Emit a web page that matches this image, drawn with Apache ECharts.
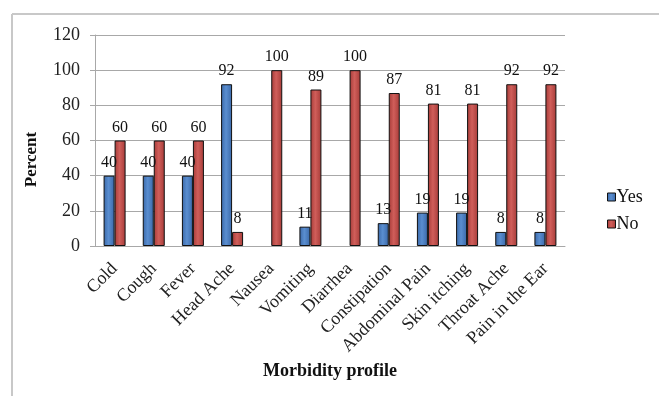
<!DOCTYPE html>
<html>
<head>
<meta charset="utf-8">
<script src="https://cdn.jsdelivr.net/npm/echarts@6/dist/echarts.min.js"></script>
<style>
  html, body { margin: 0; padding: 0; background: #fff; }
  #chart { width: 659px; height: 396px; }
</style>
</head>
<body>
<div id="chart"></div>
<script>
// Morbidity profile: share of respondents answering Yes / No per symptom
const categories = ['Cold', 'Cough', 'Fever', 'Head Ache', 'Nausea', 'Vomiting', 'Diarrhea',
  'Constipation', 'Abdominal Pain', 'Skin itching', 'Throat Ache', 'Pain in the Ear'];
const yesValues = [40, 40, 40, 92, 0, 11, 0, 13, 19, 19, 8, 8];
const noValues = [60, 60, 60, 8, 100, 89, 100, 87, 81, 81, 92, 92];
const yTicks = { min: 0, max: 120, interval: 20 };

const serif = '"Liberation Serif", "DejaVu Serif", serif';

function barFill(dark, light) {
  return new echarts.graphic.LinearGradient(0, 0, 1, 0, [
    { offset: 0, color: dark },
    { offset: 0.45, color: light },
    { offset: 1, color: dark }
  ]);
}

// zero-height bars get no outline so nothing shows on the baseline
function toBarData(values) {
  return values.map(v => (v === 0 ? { value: 0, itemStyle: { borderWidth: 0 } } : v));
}

const valueLabel = {
  show: true,
  position: 'top',
  distance: 5,
  fontFamily: serif,
  fontSize: 16,
  color: '#111',
  formatter: p => (p.value === 0 ? '' : p.value)
};

const chart = echarts.init(document.getElementById('chart'), null, { renderer: 'canvas' });

chart.setOption({
  animation: false,
  backgroundColor: '#ffffff',
  graphic: [
    { type: 'line', shape: { x1: 12, y1: 14, x2: 659, y2: 14 }, style: { stroke: '#c8c8c8', lineWidth: 2 } },
    { type: 'line', shape: { x1: 12, y1: 14, x2: 12, y2: 396 }, style: { stroke: '#c8c8c8', lineWidth: 2 } }
  ],
  grid: { left: 95, right: 94, top: 35, bottom: 150 },
  legend: {
    orient: 'vertical',
    left: 602,
    top: 183,
    itemWidth: 8,
    itemHeight: 8,
    itemGap: 9,
    icon: 'rect',
    itemStyle: { borderColor: '#111', borderWidth: 1 },
    textStyle: { fontFamily: serif, fontSize: 18, color: '#111', padding: [0, 0, 0, -4] },
    data: ['Yes', 'No']
  },
  xAxis: {
    type: 'category',
    data: categories,
    name: 'Morbidity profile',
    nameLocation: 'middle',
    nameGap: 114,
    nameTextStyle: { fontFamily: serif, fontSize: 18, fontWeight: 'bold', color: '#111' },
    axisLine: { lineStyle: { color: '#a8a8a8', width: 1 } },
    axisTick: { show: false },
    axisLabel: {
      rotate: 45,
      interval: 0,
      margin: 20,
      fontFamily: serif,
      fontSize: 18,
      color: '#222'
    }
  },
  yAxis: {
    type: 'value',
    min: yTicks.min,
    max: yTicks.max,
    interval: yTicks.interval,
    name: 'Percent',
    nameLocation: 'middle',
    nameGap: 55,
    nameTextStyle: { fontFamily: serif, fontSize: 17, fontWeight: 'bold', color: '#111', padding: [0, 38, 0, 0] },
    axisLine: { show: true, lineStyle: { color: '#a8a8a8', width: 1 } },
    axisTick: { show: true, length: 5, lineStyle: { color: '#a8a8a8' } },
    splitLine: { lineStyle: { color: '#a8a8a8', width: 1 } },
    axisLabel: { fontFamily: serif, fontSize: 18, color: '#222', margin: 15 }
  },
  series: [
    {
      name: 'Yes',
      type: 'bar',
      data: toBarData(yesValues),
      barWidth: 11,
      barGap: '0%',
      itemStyle: { color: barFill('#3a68a8', '#5a8ed0'), borderColor: '#111', borderWidth: 1 },
      label: valueLabel
    },
    {
      name: 'No',
      type: 'bar',
      data: toBarData(noValues),
      barWidth: 11,
      itemStyle: { color: barFill('#a63b38', '#d05e5a'), borderColor: '#111', borderWidth: 1 },
      label: valueLabel
    }
  ]
});
</script>
</body>
</html>
